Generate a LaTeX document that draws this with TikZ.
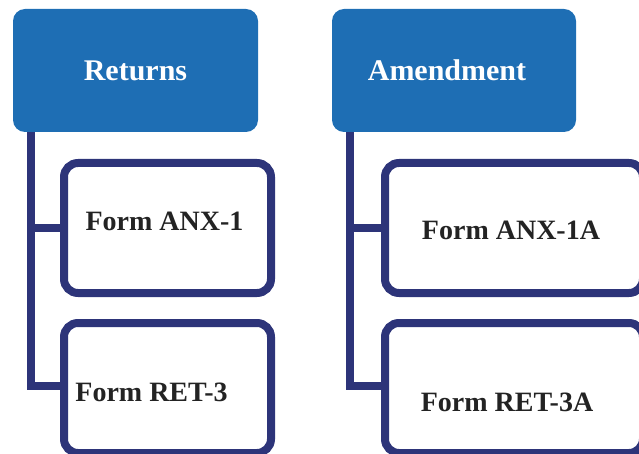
\documentclass[tikz,border=0pt]{standalone}
\usepackage{fontspec}
\setmainfont{Liberation Serif}
\usetikzlibrary{backgrounds}

\definecolor{headblue}{RGB}{30,110,180}
\definecolor{linknavy}{RGB}{45,52,121}
\definecolor{formink}{RGB}{35,35,35}

\begin{document}
\begin{tikzpicture}[x=1pt, y=-1pt,
  headbox/.style={fill=headblue, rounded corners=12pt, minimum width=245pt,
    minimum height=123pt, inner sep=0pt, text=white,
    font=\fontsize{30}{32}\selectfont\bfseries},
  formbox/.style={draw=linknavy, fill=white, line width=8pt, rounded corners=14pt,
    minimum height=130pt, inner sep=0pt},
  formtext/.style={text=formink, inner sep=0pt,
    font=\fontsize{28}{30}\selectfont\bfseries},
  link/.style={draw=linknavy, line width=8pt}]

\useasboundingbox (0,0) rectangle (639,454);

%% ── Headers ──────────────────────────────────────────────────────────────────
\node[headbox] (returns) at (135.5,70.5) {Returns};
\node[headbox, minimum width=244pt] (amend) at (454,70.5) {Amendment\hspace*{14pt}};

%% ── Form boxes (right column runs off the page) ───────────────────────────────
\node[formbox, minimum width=207pt] (anx)  at (167.5,228) {};
\node[formbox, minimum width=207pt] (ret)  at (167.5,388) {};
\node[formbox, minimum width=258pt] (anxa) at (514,228)   {};
\node[formbox, minimum width=258pt] (reta) at (514,388)   {};

%% ── Links (under everything) ─────────────────────────────────────────────────
\coordinate (rtop) at ([xshift=18pt]returns.south west);
\coordinate (atop) at ([xshift=18pt]amend.south west);
\begin{scope}[on background layer]
  \draw[link] (rtop) |- ([yshift=2pt]ret.west);
  \draw[link] (rtop) |- (anx.west);
  \draw[link] (atop) |- ([yshift=2pt]reta.west);
  \draw[link] (atop) |- (anxa.west);
\end{scope}

%% ── Labels ───────────────────────────────────────────────────────────────────
\node[formtext, xshift=-3pt,  yshift=7pt]   (anxt)  at (anx)  {Form ANX-1};
\node[formtext, xshift=-16pt, yshift=-4pt]  (rett)  at (ret)  {Form RET-3};
\node[formtext, xshift=-3pt,  yshift=-2pt]  (anxat) at (anxa) {Form ANX-1A};
\node[formtext, xshift=-7pt,  yshift=-14pt] (retat) at (reta) {Form RET-3A};

\end{tikzpicture}
\end{document}
